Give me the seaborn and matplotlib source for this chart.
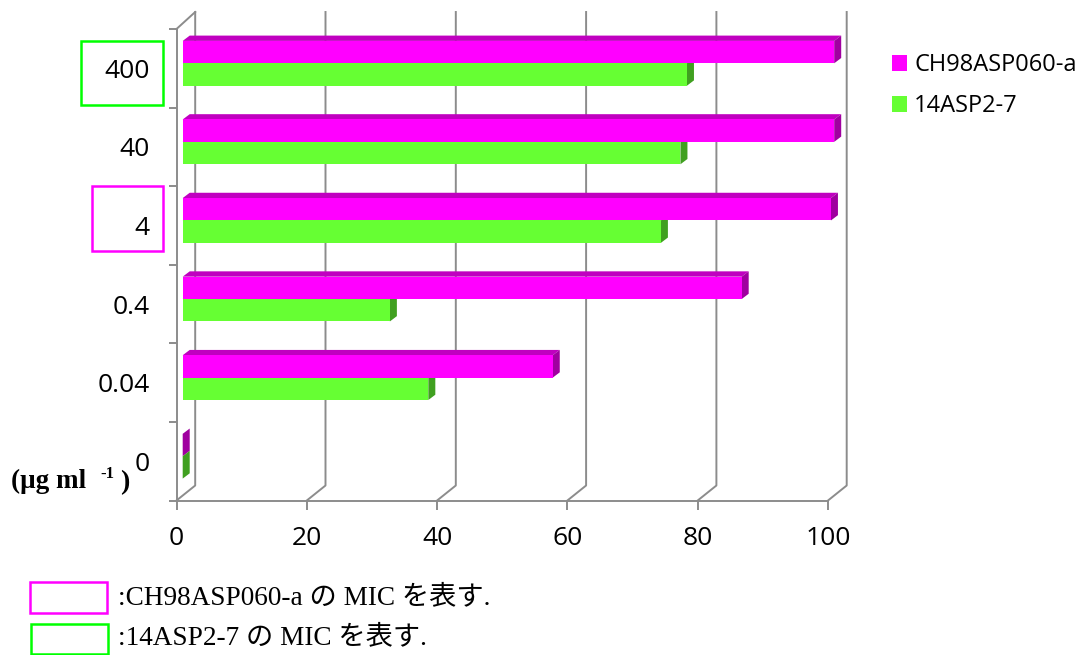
import matplotlib
matplotlib.use("Agg")
import matplotlib.pyplot as plt
import seaborn as sns
import pandas as pd
import numpy as np
from matplotlib.patches import Polygon, Rectangle, Patch
from matplotlib.lines import Line2D

# ---------------- data ----------------
concentrations = ["400", "40", "4", "0.4", "0.04", "0"]
strains = ["CH98ASP060-a", "14ASP2-7"]
ch98_values = [100, 100, 99.5, 85.8, 56.8, 0]
asp14_values = [77.4, 76.4, 73.4, 31.8, 37.7, 0]
x_ticks = [0, 20, 40, 60, 80, 100]

front_colors = {"CH98ASP060-a": "#FF00FF", "14ASP2-7": "#66FF33"}
top_colors = {"CH98ASP060-a": "#C000C0", "14ASP2-7": "#48B020"}
side_colors = {"CH98ASP060-a": "#A000A0", "14ASP2-7": "#40A020"}
grid_color = "#8C8C8C"

df = pd.DataFrame({
    "conc": concentrations * 2,
    "value": ch98_values + asp14_values,
    "strain": [strains[0]] * len(concentrations) + [strains[1]] * len(concentrations),
})

W, H = 1081, 655
fig = plt.figure(figsize=(W / 100, H / 100), dpi=100)
plt.rcParams["font.family"] = ["Open Sans", "DejaVu Sans"]

ax_l, ax_r, ax_t, ax_b = 176.5, 828.0, 29.0, 500.5
ax = fig.add_axes([ax_l / W, (H - ax_b) / H, (ax_r - ax_l) / W, (ax_b - ax_t) / H])
ax.set_facecolor("none")

sns.barplot(data=df, y="conc", x="value", hue="strain", order=concentrations,
            hue_order=strains, orient="h", width=0.57, saturation=1,
            palette=[front_colors[s] for s in strains], linewidth=0,
            legend=False, ax=ax, zorder=3)

n = len(concentrations)
ax.set_xlim(0, 100)
ax.set_ylim(n - 0.5, -0.5)

PX_X = (ax_r - ax_l) / 100.0
PX_Y = (ax_b - ax_t) / n

def px2dx(p):
    return p / PX_X

def px2dy(p):
    # positive p = upward on screen = smaller data y (axis inverted)
    return -p / PX_Y

# pseudo-3D offsets (pixels)
front_dx, front_dy = px2dx(6.2), px2dy(5.0)
depth_dx, depth_dy = px2dx(7.0), px2dy(5.3)
back_dx = px2dx(18.7)
back_dy_bottom = px2dy(15.0)
back_dy_top = px2dy(17.0)

# shift bars and add top / side faces
rects = [p for p in ax.patches if isinstance(p, Rectangle)]
for i, p in enumerate(rects):
    p.set_x(p.get_x() + front_dx)
    p.set_y(p.get_y() + front_dy)
    p.set_clip_on(False)
    strain = strains[0] if i < n else strains[1]
    x0, y0 = p.get_x(), p.get_y()
    w, h = p.get_width(), p.get_height()
    x1 = x0 + w
    ytop, ybot = y0, y0 + h   # inverted: y0 is top
    top = Polygon([(x0, ytop), (x1, ytop), (x1 + depth_dx, ytop + depth_dy),
                   (x0 + depth_dx, ytop + depth_dy)], closed=True,
                  facecolor=top_colors[strain], edgecolor="none", zorder=2,
                  clip_on=False)
    side = Polygon([(x1, ytop), (x1, ybot), (x1 + depth_dx, ybot + depth_dy),
                    (x1 + depth_dx, ytop + depth_dy)], closed=True,
                   facecolor=side_colors[strain], edgecolor="none", zorder=2,
                   clip_on=False)
    ax.add_patch(top)
    ax.add_patch(side)

# back wall gridlines
y_bot, y_top = n - 0.5, -0.5
lw = 1.4
for t in x_ticks:
    ax.add_line(Line2D([t + back_dx, t + back_dx, t],
                       [y_top + back_dy_top, y_bot + back_dy_bottom, y_bot],
                       color=grid_color, lw=lw, clip_on=False, zorder=1))
# left wall top edge
ax.add_line(Line2D([0, back_dx], [y_top, y_top + back_dy_top],
                   color=grid_color, lw=lw, clip_on=False, zorder=1))

# spines / ticks
for s in ["top", "right"]:
    ax.spines[s].set_visible(False)
for s in ["left", "bottom"]:
    ax.spines[s].set_color(grid_color)
    ax.spines[s].set_linewidth(lw)
ax.set_xticks(x_ticks)
ax.set_xticklabels([str(t) for t in x_ticks])
ax.set_yticks(np.arange(-0.5, n, 1.0), minor=True)
ax.tick_params(axis="x", which="major", direction="out", length=6.5, width=lw,
               color=grid_color, labelsize=19, pad=12, labelcolor="#000000")
ax.tick_params(axis="y", which="major", length=0, labelsize=19, pad=19.5,
               labelcolor="#000000")
ax.tick_params(axis="y", which="minor", direction="out", length=6.1, width=lw,
               color=grid_color)
ax.set_xlabel("")
ax.set_ylabel("")
ax.grid(False)

# right legend
handles = [Patch(facecolor=front_colors[s], edgecolor="none", label=s) for s in strains]
fig.legend(handles=handles, loc="upper left", bbox_to_anchor=(892 / W, 1 - 53 / H),
           frameon=False, fontsize=17, handlelength=0.64, handleheight=0.64,
           handletextpad=0.3, labelspacing=0.72, borderpad=0, borderaxespad=0)

# boxes around MIC labels
def fig_rect(x0, y0, x1, y1, color):
    fig.add_artist(Rectangle((x0 / W, 1 - y1 / H), (x1 - x0) / W, (y1 - y0) / H,
                             transform=fig.transFigure, fill=False,
                             edgecolor=color, linewidth=1.8))

fig_rect(81, 41, 162.5, 105, "#00FF00")
fig_rect(92, 186, 162.5, 250.5, "#FF00FF")

# unit label
serif = ["Liberation Serif", "DejaVu Serif"]
fig.text(11 / W, 1 - 488 / H, "(μg ml", family=serif, weight="bold",
         fontsize=19.5, va="baseline", ha="left")
fig.text(100 / W, 1 - 478 / H, "-1", family=serif, weight="bold",
         fontsize=12, va="baseline", ha="left")
fig.text(120 / W, 1 - 489 / H, ")", family=serif, weight="bold",
         fontsize=20, va="baseline", ha="left")

# bottom MIC legend
fig_rect(30, 581.5, 107, 613, "#FF00FF")
fig_rect(31, 623.5, 108, 653.5, "#00FF00")
jp = ["Liberation Serif", "Noto Sans CJK JP"]
fig.text(118 / W, 1 - 598 / H, ":CH98ASP060-a の MIC を表す.", family=jp,
         fontsize=19.6, va="center", ha="left")
fig.text(118 / W, 1 - 638 / H, ":14ASP2-7 の MIC を表す.", family=jp,
         fontsize=19.6, va="center", ha="left")

fig.savefig("out.png", dpi=100)
